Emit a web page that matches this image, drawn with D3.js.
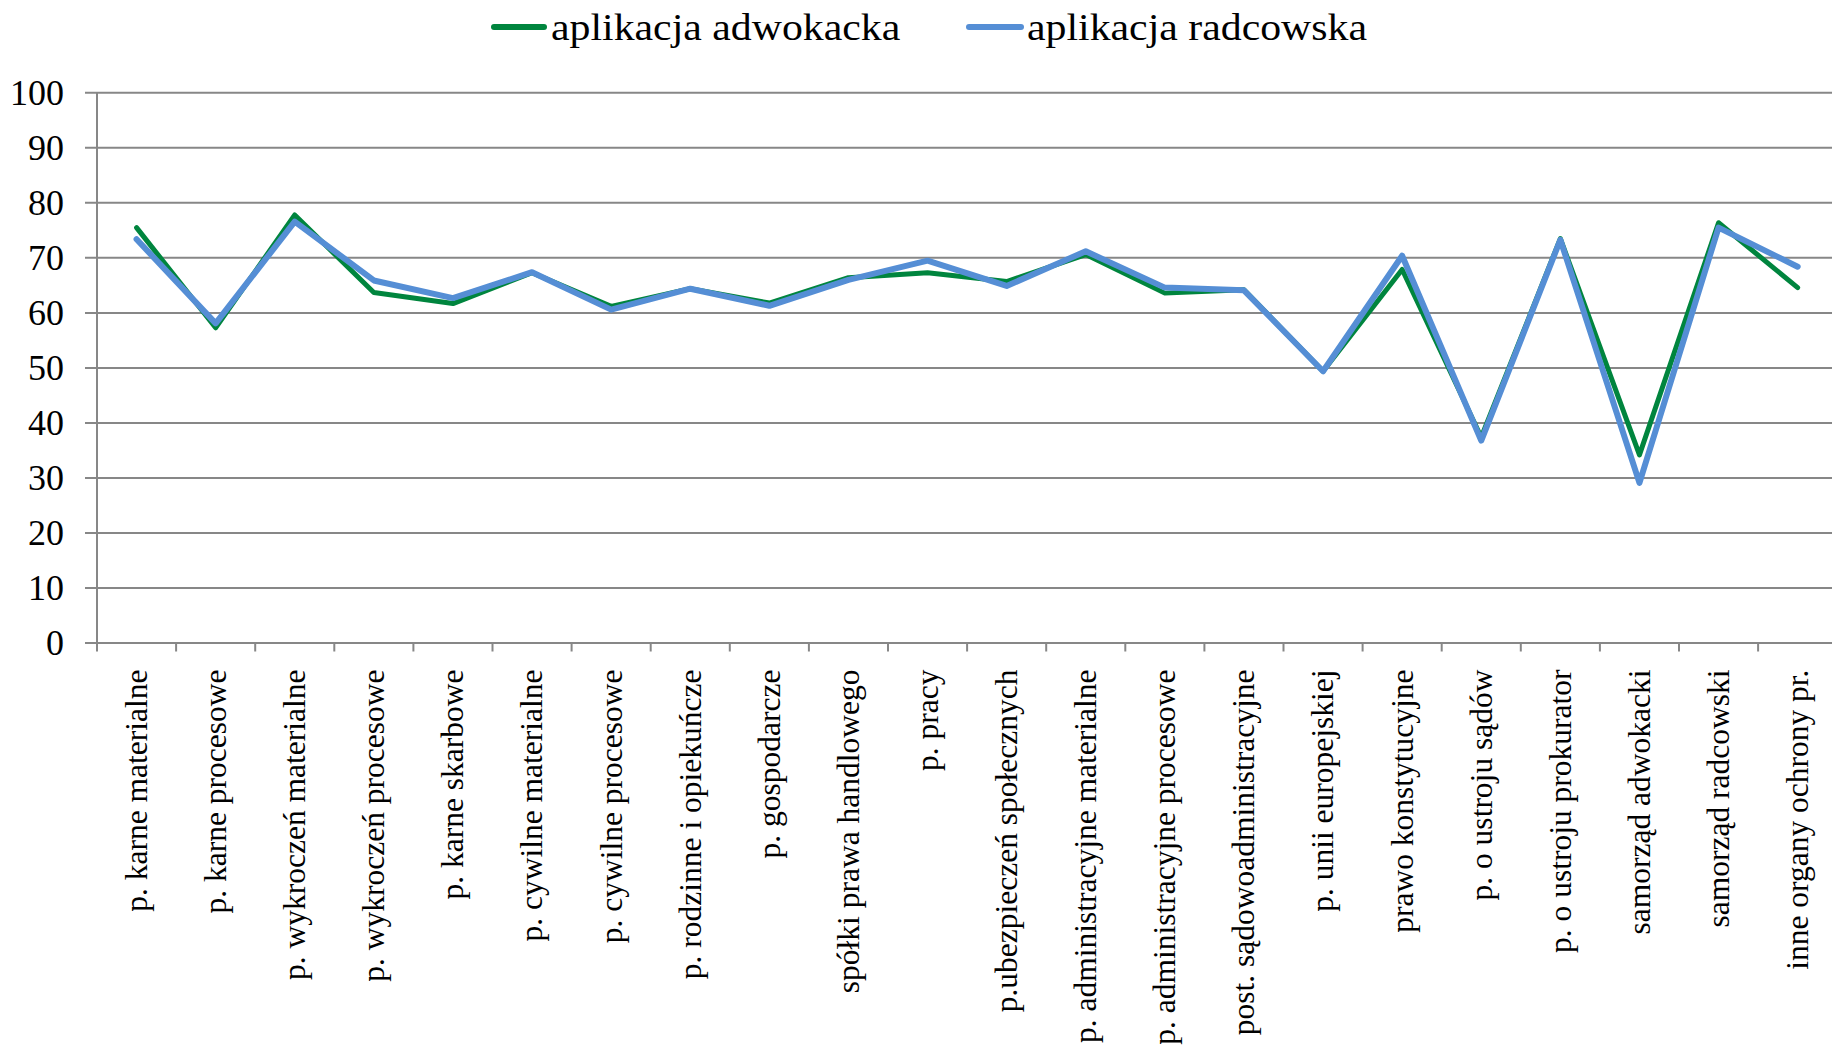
<!DOCTYPE html>
<html>
<head>
<meta charset="utf-8">
<script src="https://cdn.jsdelivr.net/npm/d3@7"></script>
<style>
  html, body { margin: 0; padding: 0; background: #fff; }
  svg { display: block; font-family: "Liberation Serif", "Times New Roman", serif; }
</style>
</head>
<body>
<svg id="chart" width="1832" height="1053"></svg>
<script>
// ---- data ----
const categories = [
  "p. karne materialne",
  "p. karne procesowe",
  "p. wykroczeń materialne",
  "p. wykroczeń procesowe",
  "p. karne skarbowe",
  "p. cywilne materialne",
  "p. cywilne procesowe",
  "p. rodzinne i opiekuńcze",
  "p. gospodarcze",
  "spółki prawa handlowego",
  "p. pracy",
  "p.ubezpieczeń społecznych",
  "p. administracyjne materialne",
  "p. administracyjne procesowe",
  "post. sądowoadministracyjne",
  "p. unii europejskiej",
  "prawo konstytucyjne",
  "p. o ustroju sądów",
  "p. o ustroju prokurator",
  "samorząd adwokacki",
  "samorząd radcowski",
  "inne organy ochrony pr."
];
const adwokacka = [75.4, 57.2, 77.7, 63.6, 61.6, 67.2, 61.1, 64.3, 61.7, 66.3, 67.2, 65.6, 70.5, 63.5, 64.1, 49.3, 67.8, 37.3, 73.4, 34.1, 76.3, 64.5];
const radcowska = [73.3, 58.0, 76.5, 65.8, 62.6, 67.3, 60.5, 64.3, 61.2, 65.9, 69.4, 64.8, 71.1, 64.5, 64.0, 49.3, 70.3, 36.7, 73.2, 29.0, 75.4, 68.3];
const seriesNames = ["aplikacja adwokacka", "aplikacja radcowska"];
const yTicks = [0, 10, 20, 30, 40, 50, 60, 70, 80, 90, 100];

// ---- layout ----
const W = 1832, H = 1053;
const plotLeft = 97, plotTop = 92.3, plotBottom = 642.5, plotRight = 97 + 22 * 79.1;
const colors = ["#00853E", "#558ED5"];
const gridColor = "#878787";
const serif = "'Liberation Serif', 'Times New Roman', serif";

const svg = d3.select("#chart");
svg.append("rect").attr("width", W).attr("height", H).attr("fill", "#fff");

const x = d3.scaleBand().domain(categories).range([plotLeft, plotRight]).padding(0);
const y = d3.scaleLinear().domain([0, 100]).range([plotBottom, plotTop]);
const bw = x.bandwidth();

// gridlines + y axis labels
const yAxis = d3.axisLeft(y).tickValues(yTicks).tickSize(12).tickFormat(d3.format("d"));
const gy = svg.append("g").attr("transform", `translate(${plotLeft},0)`).call(yAxis);
gy.select(".domain").remove();
gy.selectAll(".tick line")
  .attr("x1", -12).attr("x2", W - plotLeft)
  .attr("stroke", gridColor).attr("stroke-width", 2);
gy.selectAll(".tick text")
  .attr("x", -33).attr("dy", "0.33em")
  .attr("font-size", 36).attr("fill", "#000")
  .attr("font-family", serif);

// vertical axis line
svg.append("line")
  .attr("x1", plotLeft).attr("x2", plotLeft)
  .attr("y1", y(100)).attr("y2", y(0))
  .attr("stroke", gridColor).attr("stroke-width", 2);

// x axis: ticks at category boundaries, labels rotated
const xAxis = d3.axisBottom(x).tickSize(9).tickSizeOuter(0);
const gx = svg.append("g").attr("transform", `translate(0,${plotBottom})`).call(xAxis);
gx.select(".domain").remove();
gx.selectAll(".tick line")
  .attr("x1", -bw / 2).attr("x2", -bw / 2)
  .attr("stroke", gridColor).attr("stroke-width", 2);
gx.selectAll(".tick text")
  .attr("font-size", 31.5).attr("fill", "#000")
  .attr("font-family", serif)
  .attr("text-anchor", "end")
  .attr("transform", "rotate(-90)")
  .attr("x", -27).attr("y", 0).attr("dy", "0.33em");
// final boundary tick
svg.append("line")
  .attr("x1", plotRight).attr("x2", plotRight)
  .attr("y1", plotBottom).attr("y2", plotBottom + 9)
  .attr("stroke", gridColor).attr("stroke-width", 2);

// lines
const line = d3.line()
  .x((d, i) => x(categories[i]) + bw / 2)
  .y(d => y(d));
[adwokacka, radcowska].forEach((s, k) => {
  svg.append("path")
    .datum(s)
    .attr("d", line)
    .attr("fill", "none")
    .attr("stroke", colors[k])
    .attr("stroke-width", k === 0 ? 5 : 6)
    .attr("stroke-linejoin", "round")
    .attr("stroke-linecap", "round");
});

// legend
const legendItems = [
  { x0: 494, x1: 544, tx: 551 },
  { x0: 969, x1: 1021, tx: 1027 }
];
legendItems.forEach((it, k) => {
  svg.append("line")
    .attr("x1", it.x0).attr("x2", it.x1)
    .attr("y1", 27).attr("y2", 27)
    .attr("stroke", colors[k]).attr("stroke-width", 6)
    .attr("stroke-linecap", "round");
  svg.append("text")
    .attr("transform", `translate(${it.tx},39.5) scale(1.1,1)`)
    .attr("font-size", 38).attr("fill", "#000")
    .attr("font-family", serif)
    .text(seriesNames[k]);
});
</script>
</body>
</html>
